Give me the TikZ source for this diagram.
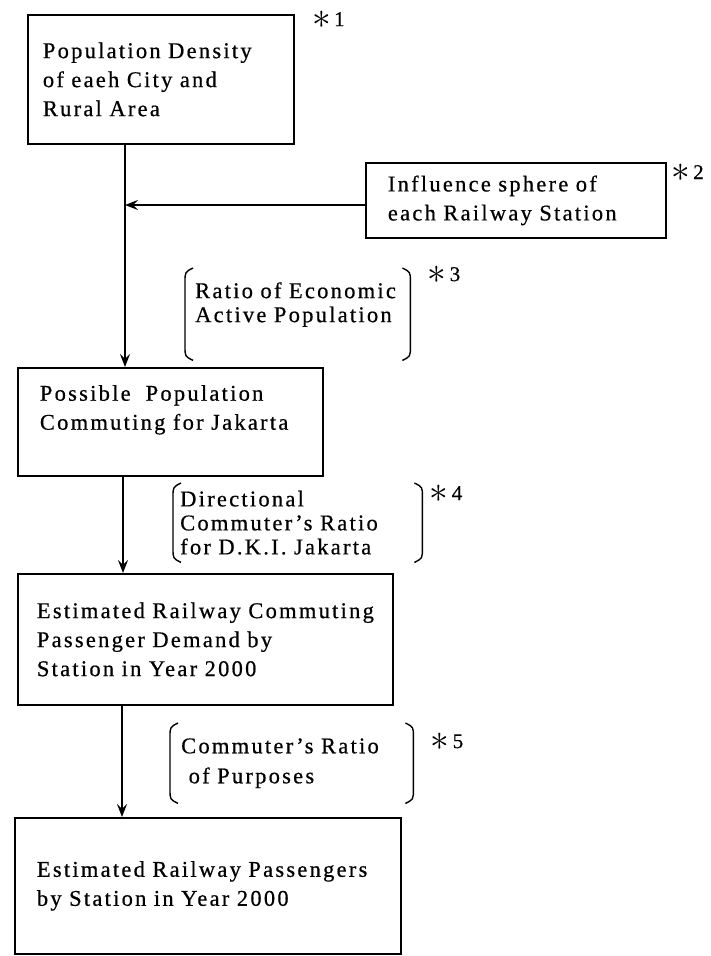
\documentclass[tikz,border=0pt]{standalone}
\usepackage{fontspec}
\setmainfont{Liberation Serif}[LetterSpace=10, FakeBold=0.6]
\usepackage{tikz}
\usetikzlibrary{calc}
\usetikzlibrary{arrows,arrows.meta}
\usetikzlibrary{positioning}

\tikzset{
    stepbox/.style={draw, line width=1.8pt, rectangle, align=left, anchor=north west,
                    inner ysep=0pt, font=\fontsize{22.5}{29}\selectfont},
    factor/.style={rectangle, align=left, anchor=north west, inner ysep=0pt,
                   font=\fontsize{22.5}{24}\selectfont},
    paren/.style={line width=1.4pt},
    flow/.style={line width=1.8pt, -{Stealth[length=13pt, width=10pt, inset=5pt]}},
    note/.style={anchor=north west, inner sep=0pt, font=\fontsize{21}{22}\selectfont}
}
\newcommand{\starmark}{\raisebox{-2.5pt}{\scalebox{1.8}{$\ast$}}\,}
\newcommand{\parens}[1]{%
    \draw[paren] ([xshift=8pt]#1.north west) .. controls ([yshift=-4pt]#1.north west) .. ([yshift=-14pt]#1.north west)
        -- ([yshift=14pt]#1.south west) .. controls ([yshift=4pt]#1.south west) .. ([xshift=8pt]#1.south west);
    \draw[paren] ([xshift=-8pt]#1.north east) .. controls ([yshift=-4pt]#1.north east) .. ([yshift=-14pt]#1.north east)
        -- ([yshift=14pt]#1.south east) .. controls ([yshift=4pt]#1.south east) .. ([xshift=-8pt]#1.south east);
}

\begin{document}
\begin{tikzpicture}[x=1pt, y=-1pt]
    % Frame to fix the page size
    \useasboundingbox (0,0) rectangle (711,956);

    % Boxes
    \node[stepbox, inner xsep=15pt, text width=236pt, minimum height=129pt] (density) at (27,14)
        {\mbox{Population Density}\\ \mbox{of eaeh City and}\\ Rural Area};
    \node[stepbox, inner xsep=22pt, text width=256pt, minimum height=75pt] (sphere) at (365,162)
        {\mbox{Influence sphere of}\\ \mbox{each Railway Station}};
    \node[stepbox, inner xsep=22pt, text width=261pt, minimum height=108pt] (possible) at (17,367)
        {\mbox{Possible~ Population}\\ \mbox{Commuting for Jakarta}\\ ~};
    \node[stepbox, inner xsep=19pt, text width=337pt, minimum height=131pt] (demand) at (17,573)
        {\mbox{Estimated Railway Commuting}\\ \mbox{Passenger Demand by}\\ \mbox{Station in Year 2000}};
    \node[stepbox, inner xsep=22pt, text width=342pt, minimum height=136pt] (passengers) at (14,817)
        {\mbox{Estimated Railway Passengers}\\ \mbox{by Station in Year 2000}};

    % Ratios in brackets
    \node[factor, inner xsep=10pt, text width=205pt, minimum height=92pt] (economic) at (185,268)
        {\mbox{Ratio of Economic}\\ \mbox{Active Population}\\ ~};
    \node[factor, inner xsep=7pt, text width=235pt, minimum height=79pt] (directional) at (173,483)
        {Directional\\ \mbox{Commuter's Ratio}\\ \mbox{for D.K.I. Jakarta}};
    \node[factor, inner xsep=11pt, text width=221pt, minimum height=80pt, font=\fontsize{22.5}{30}\selectfont] (purposes) at (170,723)
        {\mbox{Commuter's Ratio}\\ \mbox{~of Purposes}};
    \parens{economic}
    \parens{directional}
    \parens{purposes}

    % Notes
    \node[note] (n1) at ([xshift=17pt, yshift=3pt]density.north east) {\starmark1};
    \node[note] (n2) at ([xshift=4pt, yshift=-2pt]sphere.north east) {\starmark2};
    \node[note] (n3) at ([xshift=17pt, yshift=2pt]economic.north east) {\starmark3};
    \node[note] (n4) at ([xshift=7pt, yshift=-2pt]directional.north east) {\starmark4};
    \node[note] (n5) at ([xshift=17pt, yshift=-10pt]purposes.north east) {\starmark5};

    % Flow
    \coordinate (join) at (125,205);
    \draw[flow] (density.south -| join) -- (possible.north -| join);
    \draw[flow] (sphere.west |- join) -- (join);
    \draw[flow] (possible.south -| 123,0) -- (demand.north -| 123,0);
    \draw[flow] (demand.south -| 122,0) -- (passengers.north -| 122,0);
\end{tikzpicture}
\end{document}
